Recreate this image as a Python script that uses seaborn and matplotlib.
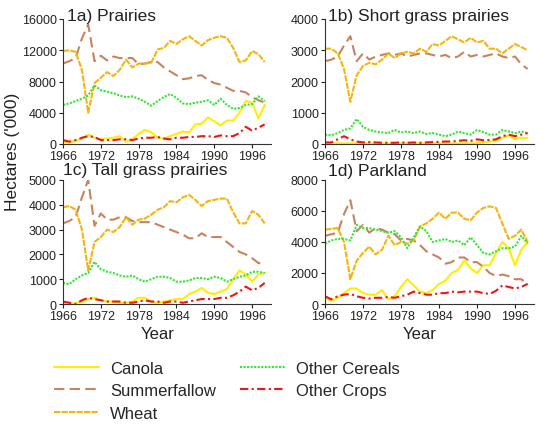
import matplotlib
matplotlib.use("Agg")
import matplotlib.pyplot as plt
import pandas as pd
import seaborn as sns

years = list(range(1966, 1999))
crops = ["Canola", "Summerfallow", "Wheat", "Other Cereals", "Other Crops"]
panels = ["1a) Prairies", "1b) Short grass prairies", "1c) Tall grass prairies", "1d) Parkland"]

# 1a) Prairies
pr_canola = [300, 200, 400, 700, 1200, 800, 600, 700, 800, 1000, 300, 600, 1300, 1800, 1500, 800, 700,
             1000, 1300, 1600, 1500, 2500, 2600, 3400, 2900, 2400, 3000, 3000, 4000, 5500, 5300, 3300, 5000]
pr_fallow = [10300, 10600, 11000, 13500, 15300, 10600, 11300, 10700, 11200, 11000, 11000, 11000, 10200,
             10300, 10500, 10500, 9800, 9300, 8800, 8300, 8400, 8700, 8800, 8200, 7800, 7600, 7200, 6800,
             6800, 6600, 6000, 5600, 5300]
pr_wheat = [11900, 12000, 11800, 9500, 4000, 7800, 8500, 9200, 8700, 9500, 10800, 9800, 10300, 10300, 10400,
            12100, 12300, 13200, 12800, 13400, 13800, 13200, 12600, 13300, 13600, 13800, 13600, 12300, 10500,
            10700, 11900, 11500, 10500]
pr_cereals = [5000, 5200, 5500, 5800, 6200, 7500, 6900, 6700, 6500, 6200, 6000, 6100, 5800, 5400, 4900, 5500,
              6000, 6400, 5900, 5200, 5100, 5300, 5400, 5600, 5000, 5800, 5000, 4500, 4600, 5000, 5100, 6100, 5500]
pr_other = [500, 300, 500, 800, 1000, 900, 500, 500, 500, 600, 600, 500, 700, 800, 800, 900, 700, 600, 800,
            800, 900, 900, 1000, 1000, 900, 1100, 1000, 1000, 1400, 2200, 1700, 2100, 2500]

# 1b) Short grass prairies
sg_canola = [20, 20, 20, 20, 20, 20, 20, 20, 20, 20, 20, 20, 20, 20, 20, 20, 20, 20, 20, 20, 20, 20, 20, 20,
             30, 50, 80, 100, 200, 280, 150, 200, 180]
sg_fallow = [2650, 2700, 2800, 3150, 3450, 2650, 2900, 2700, 2800, 2850, 2900, 2850, 2900, 2800, 2850, 2900,
             2900, 2850, 2800, 2850, 2750, 2800, 2950, 2800, 2850, 2800, 2850, 2900, 2800, 2750, 2800, 2550, 2400]
sg_wheat = [3050, 3050, 2900, 2400, 1350, 2200, 2500, 2600, 2550, 2700, 2900, 2750, 2900, 2950, 2900, 3050,
            2950, 3200, 3150, 3300, 3450, 3350, 3250, 3400, 3250, 3300, 3050, 3050, 2900, 3050, 3200, 3100, 3000]
sg_cereals = [300, 280, 350, 450, 500, 800, 550, 450, 400, 370, 350, 450, 370, 400, 350, 400, 320, 350, 300,
              250, 300, 400, 350, 300, 450, 380, 300, 300, 450, 400, 350, 400, 350]
sg_other = [50, 50, 150, 250, 150, 80, 50, 60, 50, 40, 40, 40, 50, 40, 50, 40, 50, 60, 70, 80, 80, 100, 120,
            100, 150, 120, 130, 150, 250, 300, 250, 300, 350]

# 1c) Tall grass prairies
tg_canola = [50, 0, 30, 100, 200, 250, 150, 100, 100, 50, 50, 100, 250, 250, 100, 50, 100, 150, 200, 200, 400,
             500, 650, 450, 400, 500, 600, 1000, 1350, 1200, 900, 1200, 1250]
tg_fallow = [3250, 3350, 3500, 4300, 5000, 3150, 3650, 3400, 3400, 3500, 3500, 3350, 3300, 3300, 3300, 3200,
             3100, 3000, 2900, 2800, 2650, 2650, 2850, 2700, 2700, 2700, 2500, 2300, 2100, 2000, 1850, 1650, 1650]
tg_wheat = [3900, 3950, 3800, 3000, 1350, 2500, 2700, 3000, 2900, 3100, 3500, 3200, 3400, 3450, 3600, 3800,
            3900, 4150, 4100, 4300, 4400, 4200, 3950, 4150, 4200, 4250, 4250, 3700, 3250, 3250, 3750, 3600, 3250]
tg_cereals = [850, 800, 1000, 1150, 1250, 1700, 1400, 1300, 1250, 1150, 1100, 1150, 1000, 900, 1000, 1100,
              1100, 1050, 900, 900, 950, 1050, 1050, 1000, 1100, 1050, 900, 1000, 1100, 1150, 1300, 1300, 1250]
tg_other = [100, 50, 0, 150, 250, 200, 150, 100, 100, 100, 50, 50, 100, 150, 100, 100, 50, 100, 100, 50, 100,
            150, 200, 200, 200, 250, 250, 350, 500, 700, 550, 650, 850]

# 1d) Parkland
pk_canola = [400, 200, 400, 700, 1000, 1000, 700, 600, 600, 900, 300, 500, 1100, 1600, 1200, 800, 700, 900,
             1300, 1500, 2000, 2200, 2800, 2300, 2000, 2500, 2500, 3300, 4000, 3600, 2500, 3500, 4000]
pk_fallow = [4400, 4500, 4600, 5800, 6700, 4700, 5100, 4600, 4900, 4800, 4600, 4500, 4100, 4200, 4100, 3800,
             3400, 3200, 3000, 2600, 2700, 3000, 3000, 2700, 2700, 2400, 2000, 1800, 1900, 1800, 1600, 1600, 1300]
pk_wheat = [4800, 4850, 4900, 4000, 1600, 2800, 3300, 3700, 3200, 3500, 4400, 3800, 4000, 3900, 4100, 5000,
            5200, 5500, 5900, 5500, 5900, 5900, 5500, 5400, 5900, 6200, 6300, 6200, 5200, 4200, 4400, 4800, 4000]
pk_cereals = [3900, 4100, 4200, 4200, 4100, 5100, 4900, 4900, 4800, 4700, 4600, 4700, 4300, 3600, 4300, 5000,
              4700, 4000, 4100, 4200, 4000, 4100, 3800, 4300, 3800, 3300, 3200, 3400, 3600, 3600, 3700, 4400, 3900]
pk_other = [500, 300, 500, 600, 650, 500, 400, 350, 400, 400, 450, 400, 500, 600, 800, 700, 600, 600, 700, 700,
            800, 750, 800, 800, 800, 700, 650, 850, 1200, 1100, 1000, 1100, 1300]

panel_data = {
    panels[0]: [pr_canola, pr_fallow, pr_wheat, pr_cereals, pr_other],
    panels[1]: [sg_canola, sg_fallow, sg_wheat, sg_cereals, sg_other],
    panels[2]: [tg_canola, tg_fallow, tg_wheat, tg_cereals, tg_other],
    panels[3]: [pk_canola, pk_fallow, pk_wheat, pk_cereals, pk_other],
}
y_max = [16000, 4000, 5000, 8000]
y_step = [4000, 1000, 1000, 2000]

rows = []
for panel, series in panel_data.items():
    for crop, vals in zip(crops, series):
        for yr, v in zip(years, vals):
            rows.append({"panel": panel, "crop": crop, "year": yr, "ha": v})
df = pd.DataFrame(rows)

palette = {"Canola": "#ffee00", "Summerfallow": "#c8835e", "Wheat": "#f5b50f",
           "Other Cereals": "#33e633", "Other Crops": "#ee1515"}
dashes = {"Canola": "", "Summerfallow": (5, 2.5), "Wheat": (3, 0.6),
          "Other Cereals": (1, 0.7), "Other Crops": (4, 1.6, 1, 1.6)}

sns.set_style("white")
plt.rcParams["font.family"] = ["Liberation Sans", "DejaVu Sans"]

fig = plt.figure(figsize=(5.5, 4.31), dpi=100)
W, H = 550, 431
boxes = [(63, 20, 208, 125), (325, 20, 209, 125), (63, 181, 208, 124), (325, 181, 209, 124)]
title_pos = [(67, 21), (328, 21), (63, 175), (328, 176)]

axes = []
for i, panel in enumerate(panels):
    x0, y0, w, h = boxes[i]
    ax = fig.add_axes([x0 / W, 1 - (y0 + h) / H, w / W, h / H])
    sub = df[df["panel"] == panel]
    sns.lineplot(data=sub, x="year", y="ha", hue="crop", style="crop", hue_order=crops, style_order=crops,
                 palette=palette, dashes=dashes, linewidth=1.5, ax=ax, legend=(i == 0))
    ax.set_xlim(1966, 1999)
    ax.set_ylim(0, y_max[i])
    ax.set_xticks([1966, 1972, 1978, 1984, 1990, 1996])
    ax.set_yticks(list(range(0, y_max[i] + 1, y_step[i])))
    ax.set_xlabel("")
    ax.set_ylabel("")
    ax.tick_params(axis="both", labelsize=9, length=3, width=0.8, colors="#222222", pad=1.5, direction="out")
    ax.tick_params(axis="both", bottom=True, left=True)
    for s in ["top", "right"]:
        ax.spines[s].set_visible(False)
    for s in ["left", "bottom"]:
        ax.spines[s].set_color("#333333")
        ax.spines[s].set_linewidth(0.8)
    tx, ty = title_pos[i]
    fig.text(tx / W, 1 - ty / H, panel, fontsize=12.5, color="#222222", va="baseline", ha="left")
    axes.append(ax)

handles, labels = axes[0].get_legend_handles_labels()
axes[0].get_legend().remove()
fig.legend(handles, labels, ncol=2, loc="upper left", bbox_to_anchor=(47 / W, 1 - 355 / H),
           frameon=False, fontsize=12, handlelength=2.7, handletextpad=0.7, columnspacing=1.4,
           labelspacing=0.45, borderaxespad=0)

fig.text(158 / W, 1 - 335 / H, "Year", fontsize=12, color="#222222", ha="center", va="center")
fig.text(420 / W, 1 - 335 / H, "Year", fontsize=12, color="#222222", ha="center", va="center")
fig.text(12 / W, 1 - 152 / H, "Hectares ('000)", fontsize=12.5, color="#222222", rotation=90,
         ha="center", va="center")

fig.savefig("out.png", dpi=100)
